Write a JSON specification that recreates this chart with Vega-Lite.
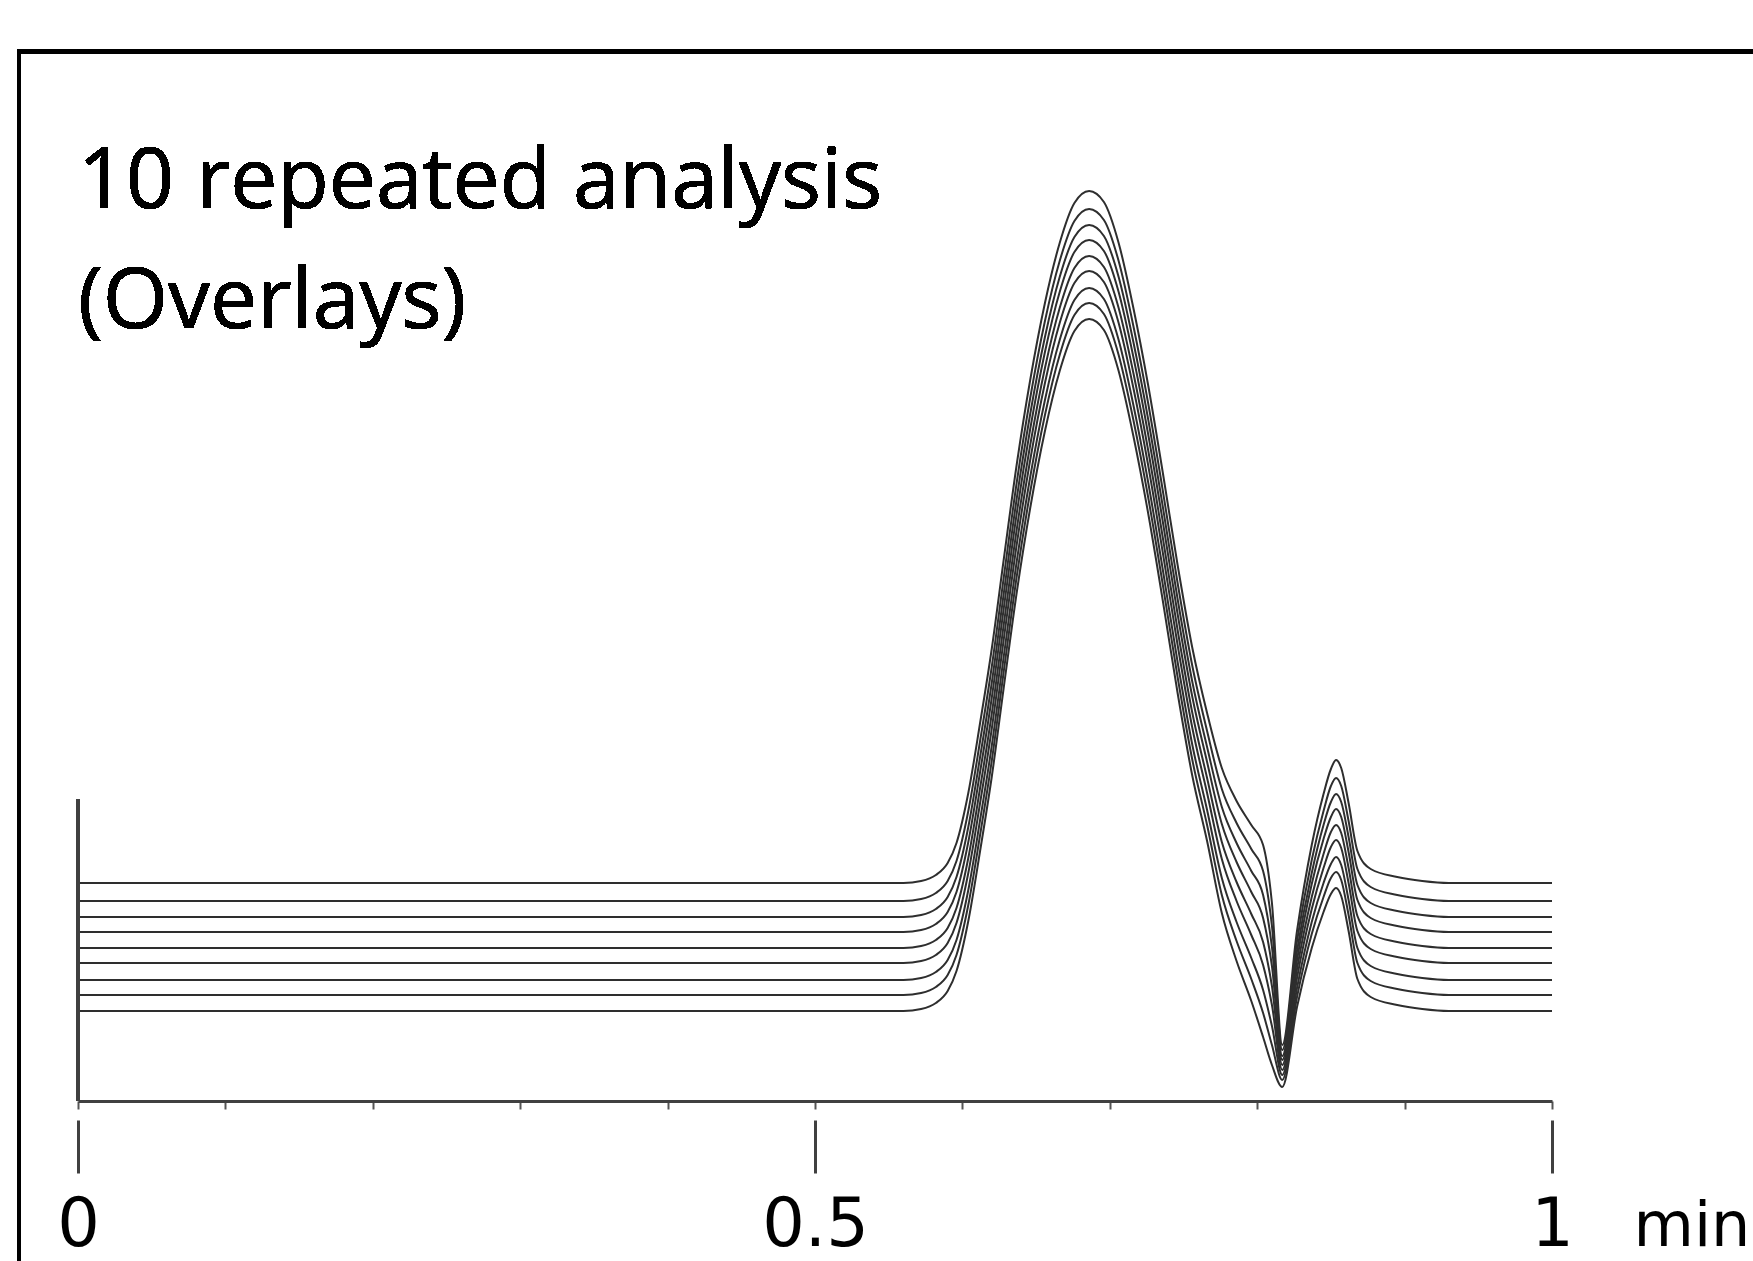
{
 "$schema": "https://vega.github.io/schema/vega-lite/v6.json",
 "usermeta": {"embedOptions": {"actions": false}},
 "width": 1474,
 "height": 1000,
 "autosize": {"type": "none"},
 "padding": {"left": 78, "top": 101, "right": 201, "bottom": 160},
 "background": "white",
 "config": {"view": {"stroke": null}},
 "data": {"values": [
{"run":1,"t":0,"s":218},{"run":1,"t":0.56,"s":218},{"run":1,"t":0.572,"s":220},{"run":1,"t":0.582,"s":226},{"run":1,"t":0.59,"s":238},{"run":1,"t":0.596,"s":258},{"run":1,"t":0.604,"s":308},{"run":1,"t":0.612,"s":378},{"run":1,"t":0.62,"s":453},{"run":1,"t":0.628,"s":541},{"run":1,"t":0.637,"s":638},{"run":1,"t":0.646,"s":721},{"run":1,"t":0.656,"s":798},{"run":1,"t":0.666,"s":858},{"run":1,"t":0.676,"s":898},{"run":1,"t":0.686,"s":910},{"run":1,"t":0.696,"s":899},{"run":1,"t":0.706,"s":858},{"run":1,"t":0.716,"s":793},{"run":1,"t":0.726,"s":716},{"run":1,"t":0.736,"s":628},{"run":1,"t":0.746,"s":536},{"run":1,"t":0.756,"s":453},{"run":1,"t":0.766,"s":388},{"run":1,"t":0.776,"s":333},{"run":1,"t":0.786,"s":300},{"run":1,"t":0.796,"s":276},{"run":1,"t":0.804,"s":256},{"run":1,"t":0.81,"s":198},{"run":1,"t":0.817,"s":56},{"run":1,"t":0.827,"s":170},{"run":1,"t":0.837,"s":256},{"run":1,"t":0.845,"s":307},{"run":1,"t":0.85,"s":332},{"run":1,"t":0.8535,"s":341},{"run":1,"t":0.857,"s":333},{"run":1,"t":0.862,"s":298},{"run":1,"t":0.868,"s":250},{"run":1,"t":0.877,"s":232},{"run":1,"t":0.895,"s":224},{"run":1,"t":0.912,"s":220},{"run":1,"t":0.93,"s":218},{"run":1,"t":1,"s":218},
{"run":2,"t":0,"s":200},{"run":2,"t":0.56,"s":200},{"run":2,"t":0.572,"s":202},{"run":2,"t":0.582,"s":208},{"run":2,"t":0.59,"s":220},{"run":2,"t":0.596,"s":240},{"run":2,"t":0.604,"s":290},{"run":2,"t":0.612,"s":360},{"run":2,"t":0.62,"s":435},{"run":2,"t":0.628,"s":523},{"run":2,"t":0.637,"s":620},{"run":2,"t":0.646,"s":703},{"run":2,"t":0.656,"s":780},{"run":2,"t":0.666,"s":840},{"run":2,"t":0.676,"s":880},{"run":2,"t":0.686,"s":892},{"run":2,"t":0.696,"s":881},{"run":2,"t":0.706,"s":840},{"run":2,"t":0.716,"s":775},{"run":2,"t":0.726,"s":698},{"run":2,"t":0.736,"s":610},{"run":2,"t":0.746,"s":518},{"run":2,"t":0.756,"s":435},{"run":2,"t":0.766,"s":370},{"run":2,"t":0.776,"s":312},{"run":2,"t":0.786,"s":278},{"run":2,"t":0.796,"s":252},{"run":2,"t":0.804,"s":230},{"run":2,"t":0.81,"s":175},{"run":2,"t":0.817,"s":51},{"run":2,"t":0.827,"s":160},{"run":2,"t":0.837,"s":241},{"run":2,"t":0.845,"s":290},{"run":2,"t":0.85,"s":315},{"run":2,"t":0.8535,"s":323},{"run":2,"t":0.857,"s":315},{"run":2,"t":0.862,"s":280},{"run":2,"t":0.868,"s":232},{"run":2,"t":0.877,"s":214},{"run":2,"t":0.895,"s":206},{"run":2,"t":0.912,"s":202},{"run":2,"t":0.93,"s":200},{"run":2,"t":1,"s":200},
{"run":3,"t":0,"s":184},{"run":3,"t":0.56,"s":184},{"run":3,"t":0.572,"s":186},{"run":3,"t":0.582,"s":192},{"run":3,"t":0.59,"s":204},{"run":3,"t":0.596,"s":224},{"run":3,"t":0.604,"s":274},{"run":3,"t":0.612,"s":344},{"run":3,"t":0.62,"s":419},{"run":3,"t":0.628,"s":507},{"run":3,"t":0.637,"s":604},{"run":3,"t":0.646,"s":687},{"run":3,"t":0.656,"s":764},{"run":3,"t":0.666,"s":824},{"run":3,"t":0.676,"s":864},{"run":3,"t":0.686,"s":876},{"run":3,"t":0.696,"s":865},{"run":3,"t":0.706,"s":824},{"run":3,"t":0.716,"s":759},{"run":3,"t":0.726,"s":682},{"run":3,"t":0.736,"s":594},{"run":3,"t":0.746,"s":502},{"run":3,"t":0.756,"s":419},{"run":3,"t":0.766,"s":354},{"run":3,"t":0.776,"s":294},{"run":3,"t":0.786,"s":258},{"run":3,"t":0.796,"s":230},{"run":3,"t":0.804,"s":206},{"run":3,"t":0.81,"s":154},{"run":3,"t":0.817,"s":45},{"run":3,"t":0.827,"s":150},{"run":3,"t":0.837,"s":228},{"run":3,"t":0.845,"s":276},{"run":3,"t":0.85,"s":299},{"run":3,"t":0.8535,"s":307},{"run":3,"t":0.857,"s":299},{"run":3,"t":0.862,"s":264},{"run":3,"t":0.868,"s":216},{"run":3,"t":0.877,"s":198},{"run":3,"t":0.895,"s":190},{"run":3,"t":0.912,"s":186},{"run":3,"t":0.93,"s":184},{"run":3,"t":1,"s":184},
{"run":4,"t":0,"s":169},{"run":4,"t":0.56,"s":169},{"run":4,"t":0.572,"s":171},{"run":4,"t":0.582,"s":177},{"run":4,"t":0.59,"s":189},{"run":4,"t":0.596,"s":209},{"run":4,"t":0.604,"s":259},{"run":4,"t":0.612,"s":329},{"run":4,"t":0.62,"s":404},{"run":4,"t":0.628,"s":492},{"run":4,"t":0.637,"s":589},{"run":4,"t":0.646,"s":672},{"run":4,"t":0.656,"s":749},{"run":4,"t":0.666,"s":809},{"run":4,"t":0.676,"s":849},{"run":4,"t":0.686,"s":861},{"run":4,"t":0.696,"s":850},{"run":4,"t":0.706,"s":809},{"run":4,"t":0.716,"s":744},{"run":4,"t":0.726,"s":667},{"run":4,"t":0.736,"s":579},{"run":4,"t":0.746,"s":487},{"run":4,"t":0.756,"s":404},{"run":4,"t":0.766,"s":339},{"run":4,"t":0.776,"s":277},{"run":4,"t":0.786,"s":239},{"run":4,"t":0.796,"s":209},{"run":4,"t":0.804,"s":183},{"run":4,"t":0.81,"s":135},{"run":4,"t":0.817,"s":41},{"run":4,"t":0.827,"s":141},{"run":4,"t":0.837,"s":217},{"run":4,"t":0.845,"s":262},{"run":4,"t":0.85,"s":284},{"run":4,"t":0.8535,"s":292},{"run":4,"t":0.857,"s":284},{"run":4,"t":0.862,"s":249},{"run":4,"t":0.868,"s":201},{"run":4,"t":0.877,"s":183},{"run":4,"t":0.895,"s":175},{"run":4,"t":0.912,"s":171},{"run":4,"t":0.93,"s":169},{"run":4,"t":1,"s":169},
{"run":5,"t":0,"s":153},{"run":5,"t":0.56,"s":153},{"run":5,"t":0.572,"s":155},{"run":5,"t":0.582,"s":161},{"run":5,"t":0.59,"s":173},{"run":5,"t":0.596,"s":193},{"run":5,"t":0.604,"s":243},{"run":5,"t":0.612,"s":313},{"run":5,"t":0.62,"s":388},{"run":5,"t":0.628,"s":476},{"run":5,"t":0.637,"s":573},{"run":5,"t":0.646,"s":656},{"run":5,"t":0.656,"s":733},{"run":5,"t":0.666,"s":793},{"run":5,"t":0.676,"s":833},{"run":5,"t":0.686,"s":845},{"run":5,"t":0.696,"s":834},{"run":5,"t":0.706,"s":793},{"run":5,"t":0.716,"s":728},{"run":5,"t":0.726,"s":651},{"run":5,"t":0.736,"s":563},{"run":5,"t":0.746,"s":471},{"run":5,"t":0.756,"s":388},{"run":5,"t":0.766,"s":323},{"run":5,"t":0.776,"s":259},{"run":5,"t":0.786,"s":219},{"run":5,"t":0.796,"s":187},{"run":5,"t":0.804,"s":159},{"run":5,"t":0.81,"s":115},{"run":5,"t":0.817,"s":36},{"run":5,"t":0.827,"s":132},{"run":5,"t":0.837,"s":204},{"run":5,"t":0.845,"s":247},{"run":5,"t":0.85,"s":269},{"run":5,"t":0.8535,"s":276},{"run":5,"t":0.857,"s":268},{"run":5,"t":0.862,"s":233},{"run":5,"t":0.868,"s":185},{"run":5,"t":0.877,"s":167},{"run":5,"t":0.895,"s":159},{"run":5,"t":0.912,"s":155},{"run":5,"t":0.93,"s":153},{"run":5,"t":1,"s":153},
{"run":6,"t":0,"s":138},{"run":6,"t":0.56,"s":138},{"run":6,"t":0.572,"s":140},{"run":6,"t":0.582,"s":146},{"run":6,"t":0.59,"s":158},{"run":6,"t":0.596,"s":178},{"run":6,"t":0.604,"s":228},{"run":6,"t":0.612,"s":298},{"run":6,"t":0.62,"s":373},{"run":6,"t":0.628,"s":461},{"run":6,"t":0.637,"s":558},{"run":6,"t":0.646,"s":641},{"run":6,"t":0.656,"s":718},{"run":6,"t":0.666,"s":778},{"run":6,"t":0.676,"s":818},{"run":6,"t":0.686,"s":830},{"run":6,"t":0.696,"s":819},{"run":6,"t":0.706,"s":778},{"run":6,"t":0.716,"s":713},{"run":6,"t":0.726,"s":636},{"run":6,"t":0.736,"s":548},{"run":6,"t":0.746,"s":456},{"run":6,"t":0.756,"s":373},{"run":6,"t":0.766,"s":308},{"run":6,"t":0.776,"s":242},{"run":6,"t":0.786,"s":200},{"run":6,"t":0.796,"s":166},{"run":6,"t":0.804,"s":136},{"run":6,"t":0.81,"s":96},{"run":6,"t":0.817,"s":31},{"run":6,"t":0.827,"s":123},{"run":6,"t":0.837,"s":192},{"run":6,"t":0.845,"s":233},{"run":6,"t":0.85,"s":254},{"run":6,"t":0.8535,"s":261},{"run":6,"t":0.857,"s":253},{"run":6,"t":0.862,"s":218},{"run":6,"t":0.868,"s":170},{"run":6,"t":0.877,"s":152},{"run":6,"t":0.895,"s":144},{"run":6,"t":0.912,"s":140},{"run":6,"t":0.93,"s":138},{"run":6,"t":1,"s":138},
{"run":7,"t":0,"s":121},{"run":7,"t":0.56,"s":121},{"run":7,"t":0.572,"s":123},{"run":7,"t":0.582,"s":129},{"run":7,"t":0.59,"s":141},{"run":7,"t":0.596,"s":161},{"run":7,"t":0.604,"s":211},{"run":7,"t":0.612,"s":281},{"run":7,"t":0.62,"s":356},{"run":7,"t":0.628,"s":444},{"run":7,"t":0.637,"s":541},{"run":7,"t":0.646,"s":624},{"run":7,"t":0.656,"s":701},{"run":7,"t":0.666,"s":761},{"run":7,"t":0.676,"s":801},{"run":7,"t":0.686,"s":813},{"run":7,"t":0.696,"s":802},{"run":7,"t":0.706,"s":761},{"run":7,"t":0.716,"s":696},{"run":7,"t":0.726,"s":619},{"run":7,"t":0.736,"s":531},{"run":7,"t":0.746,"s":439},{"run":7,"t":0.756,"s":356},{"run":7,"t":0.766,"s":291},{"run":7,"t":0.776,"s":223},{"run":7,"t":0.786,"s":179},{"run":7,"t":0.796,"s":143},{"run":7,"t":0.804,"s":111},{"run":7,"t":0.81,"s":75},{"run":7,"t":0.817,"s":26},{"run":7,"t":0.827,"s":113},{"run":7,"t":0.837,"s":179},{"run":7,"t":0.845,"s":218},{"run":7,"t":0.85,"s":237},{"run":7,"t":0.8535,"s":244},{"run":7,"t":0.857,"s":236},{"run":7,"t":0.862,"s":201},{"run":7,"t":0.868,"s":153},{"run":7,"t":0.877,"s":135},{"run":7,"t":0.895,"s":127},{"run":7,"t":0.912,"s":123},{"run":7,"t":0.93,"s":121},{"run":7,"t":1,"s":121},
{"run":8,"t":0,"s":106},{"run":8,"t":0.56,"s":106},{"run":8,"t":0.572,"s":108},{"run":8,"t":0.582,"s":114},{"run":8,"t":0.59,"s":126},{"run":8,"t":0.596,"s":146},{"run":8,"t":0.604,"s":196},{"run":8,"t":0.612,"s":266},{"run":8,"t":0.62,"s":341},{"run":8,"t":0.628,"s":429},{"run":8,"t":0.637,"s":526},{"run":8,"t":0.646,"s":609},{"run":8,"t":0.656,"s":686},{"run":8,"t":0.666,"s":746},{"run":8,"t":0.676,"s":786},{"run":8,"t":0.686,"s":798},{"run":8,"t":0.696,"s":787},{"run":8,"t":0.706,"s":746},{"run":8,"t":0.716,"s":681},{"run":8,"t":0.726,"s":604},{"run":8,"t":0.736,"s":516},{"run":8,"t":0.746,"s":424},{"run":8,"t":0.756,"s":341},{"run":8,"t":0.766,"s":276},{"run":8,"t":0.776,"s":206},{"run":8,"t":0.786,"s":160},{"run":8,"t":0.796,"s":122},{"run":8,"t":0.804,"s":88},{"run":8,"t":0.81,"s":56},{"run":8,"t":0.817,"s":21},{"run":8,"t":0.827,"s":104},{"run":8,"t":0.837,"s":167},{"run":8,"t":0.845,"s":204},{"run":8,"t":0.85,"s":223},{"run":8,"t":0.8535,"s":229},{"run":8,"t":0.857,"s":221},{"run":8,"t":0.862,"s":186},{"run":8,"t":0.868,"s":138},{"run":8,"t":0.877,"s":120},{"run":8,"t":0.895,"s":112},{"run":8,"t":0.912,"s":108},{"run":8,"t":0.93,"s":106},{"run":8,"t":1,"s":106},
{"run":9,"t":0,"s":90},{"run":9,"t":0.56,"s":90},{"run":9,"t":0.572,"s":92},{"run":9,"t":0.582,"s":98},{"run":9,"t":0.59,"s":110},{"run":9,"t":0.596,"s":130},{"run":9,"t":0.604,"s":180},{"run":9,"t":0.612,"s":250},{"run":9,"t":0.62,"s":325},{"run":9,"t":0.628,"s":413},{"run":9,"t":0.637,"s":510},{"run":9,"t":0.646,"s":593},{"run":9,"t":0.656,"s":670},{"run":9,"t":0.666,"s":730},{"run":9,"t":0.676,"s":770},{"run":9,"t":0.686,"s":782},{"run":9,"t":0.696,"s":771},{"run":9,"t":0.706,"s":730},{"run":9,"t":0.716,"s":665},{"run":9,"t":0.726,"s":588},{"run":9,"t":0.736,"s":500},{"run":9,"t":0.746,"s":408},{"run":9,"t":0.756,"s":325},{"run":9,"t":0.766,"s":260},{"run":9,"t":0.776,"s":188},{"run":9,"t":0.786,"s":140},{"run":9,"t":0.796,"s":100},{"run":9,"t":0.804,"s":64},{"run":9,"t":0.81,"s":36},{"run":9,"t":0.817,"s":14},{"run":9,"t":0.827,"s":94},{"run":9,"t":0.837,"s":153},{"run":9,"t":0.845,"s":189},{"run":9,"t":0.85,"s":207},{"run":9,"t":0.8535,"s":213},{"run":9,"t":0.857,"s":205},{"run":9,"t":0.862,"s":170},{"run":9,"t":0.868,"s":122},{"run":9,"t":0.877,"s":104},{"run":9,"t":0.895,"s":96},{"run":9,"t":0.912,"s":92},{"run":9,"t":0.93,"s":90},{"run":9,"t":1,"s":90}
 ]},
 "resolve": {"axis": {"x": "independent"}},
 "layer": [
  {
   "mark": {"type": "line", "stroke": "#2e2e2e", "strokeWidth": 2, "interpolate": "monotone"},
   "encoding": {
    "x": {"field": "t", "type": "quantitative", "scale": {"domain": [0, 1], "nice": false, "zero": false},
     "axis": {"orient": "bottom", "values": [0, 0.1, 0.2, 0.3, 0.4, 0.5, 0.6, 0.7, 0.8, 0.9, 1], "labels": false, "title": null, "grid": false, "domain": true, "domainColor": "#404040", "domainWidth": 3, "ticks": true, "tickSize": 8, "tickColor": "#555555", "tickWidth": 2}},
    "y": {"field": "s", "type": "quantitative", "scale": {"domain": [0, 1000], "nice": false, "zero": false}, "axis": null},
    "detail": {"field": "run", "type": "nominal"}
   }
  },
  {
   "mark": {"type": "rule", "stroke": "#404040", "strokeWidth": 3},
   "encoding": {
    "x": {"datum": 0, "type": "quantitative", "scale": {"domain": [0, 1], "nice": false, "zero": false},
     "axis": {"orient": "bottom", "offset": 19, "values": [0, 0.5, 1], "format": "~g", "domain": false, "grid": false, "ticks": true, "tickSize": 53, "tickWidth": 3, "tickColor": "#404040", "labels": true, "labelFont": "DejaVu Sans", "labelFontSize": 67, "labelColor": "#000000", "labelBaseline": "alphabetic", "labelPadding": 72, "labelAlign": "center", "labelFlush": false, "labelOverlap": false, "title": "min", "titleFont": "DejaVu Sans", "titleFontSize": 62, "titleFontWeight": "normal", "titleColor": "#000000", "titleX": 1555, "titleY": 125, "titleAlign": "left", "titleBaseline": "alphabetic", "titleAnchor": null}},
    "y": {"datum": 0, "type": "quantitative", "scale": {"domain": [0, 1000], "nice": false, "zero": false}, "axis": null},
    "y2": {"datum": 302}
   }
  },
  {
   "mark": {"type": "rect", "fill": "transparent", "stroke": "#000000", "strokeWidth": 3.5},
   "encoding": {
    "x": {"datum": -0.04, "type": "quantitative", "scale": {"domain": [0, 1], "nice": false, "zero": false}, "axis": null},
    "x2": {"datum": 1.3},
    "y": {"datum": 1049.5, "type": "quantitative", "scale": {"domain": [0, 1000], "nice": false, "zero": false}, "axis": null},
    "y2": {"datum": -400}
   }
  },
  {
   "mark": {"type": "text", "align": "left", "baseline": "alphabetic", "font": "Open Sans", "fontSize": 84, "lineHeight": 120, "color": "#000000"},
   "encoding": {
    "x": {"datum": 0, "type": "quantitative", "scale": {"domain": [0, 1], "nice": false, "zero": false}, "axis": null},
    "y": {"datum": 893, "type": "quantitative", "scale": {"domain": [0, 1000], "nice": false, "zero": false}, "axis": null},
    "text": {"value": ["10 repeated analysis", "(Overlays)"]}
   }
  }
 ]
}
